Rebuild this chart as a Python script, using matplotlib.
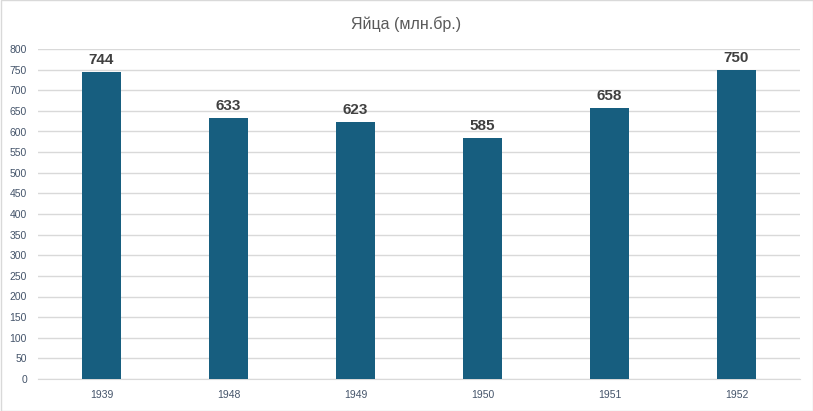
import matplotlib.pyplot as plt
import matplotlib.patches as mpatches
import numpy as np

years = ['1939', '1948', '1949', '1950', '1951', '1952']
eggs = [744, 633, 623, 585, 658, 750]

plt.rcParams['font.family'] = ['Liberation Sans', 'DejaVu Sans']

fig = plt.figure(figsize=(8.13, 4.11), dpi=100)
ax = fig.add_axes([38 / 813, 32 / 411, 762 / 813, 330 / 411])

x = np.arange(len(years))
bars = ax.bar(x, eggs, width=0.31, color='#175E7F', zorder=3)
for b, v in zip(bars, eggs):
    ax.text(b.get_x() + b.get_width() / 2, v + 12, str(v), ha='center', va='bottom',
            fontsize=11, fontweight='bold', color='#404040')

ax.set_xlim(-0.5, len(years) - 0.5)
ax.set_ylim(0, 800)
ax.set_yticks(range(0, 801, 50))
ax.set_xticks(x, years)
ax.grid(axis='y', color='#d9d9d9', linewidth=1, zorder=0)
for s in ['top', 'right', 'left']:
    ax.spines[s].set_visible(False)
ax.spines['bottom'].set_color('#d9d9d9')
ax.tick_params(axis='both', length=0, labelsize=7.5, labelcolor='#44546A')
ax.tick_params(axis='x', pad=8)
ax.tick_params(axis='y', pad=8)

fig.text(0.5, 1 - 24 / 411, 'Яйца (млн.бр.)', ha='center', va='center',
         fontsize=11.5, color='#595959')

# рамка вокруг диаграммы
fig.patches.append(mpatches.Rectangle((0.5 / 813, 0.5 / 411), 1 - 1 / 813, 1 - 1 / 411,
                                      transform=fig.transFigure, fill=False,
                                      edgecolor='#d9d9d9', linewidth=1))

fig.savefig('out.png', dpi=100)
